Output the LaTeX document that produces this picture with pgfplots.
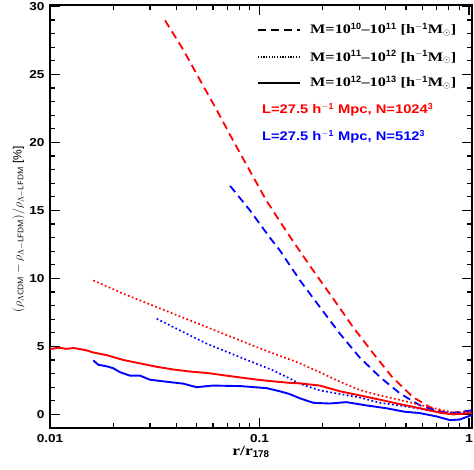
\documentclass[border=0pt]{standalone}
\usepackage{pgfplots}
\pgfplotsset{compat=1.18}
\usepackage{fontspec}
\setmainfont{Liberation Sans}
\newfontfamily\widesans[FakeStretch=1.18]{Liberation Sans Bold}
\newfontfamily\wideserif[FakeStretch=1.25]{Liberation Serif Bold}
\begin{document}
\begin{tikzpicture}[x=1pt,y=1pt]
\begin{axis}[
  at={(0pt,0pt)}, anchor=south west,
  scale only axis, width=422pt, height=423pt,
  xmode=log, xmin=0.01, xmax=1.033,
  ymin=-1, ymax=30.1,
  xtick={0.01,0.1,1}, xticklabels={0.01,0.1,1},
  minor xtick={0.02,0.03,0.04,0.05,0.06,0.07,0.08,0.09,0.2,0.3,0.4,0.5,0.6,0.7,0.8,0.9},
  ytick={0,5,10,15,20,25,30},
  minor y tick num=4,
  tick align=inside, xtick pos=both, ytick pos=both,
  major tick length=10pt, minor tick length=5pt,
  every tick/.style={black, line width=1.1pt},
  axis line style={line width=1.3pt},
  ticklabel style={font=\widesans\fontsize{11.5}{14}\selectfont},
  xticklabel style={yshift=-3pt},
  yticklabel style={xshift=-2pt},
  /pgf/number format/assume math mode=true,
  xlabel={\wideserif\fontsize{14}{16}\selectfont r/r$_{\mathbf{178}}$},
  ylabel={\fontsize{12}{14}\selectfont $(\rho_{\Lambda\mathsf{CDM}}-\rho_{\Lambda\mathsf{-LFDM}})/\rho_{\Lambda\mathsf{-LFDM}}$ [\%]},
  xlabel style={yshift=3pt, xshift=-10pt},
  ylabel style={at={(ticklabel cs:0.47)}, yshift=-2pt},
  clip=true,
]
% red dashed
\addplot[red, line width=1.8pt, dash pattern=on 8pt off 5pt] coordinates {
(0.0354,28.97)(0.0433,26.8)(0.0519,24.6)(0.0624,22.4)(0.0750,20.1)(0.090,17.9)(0.108,15.7)(0.130,13.8)(0.145,12.7)(0.18,10.6)(0.225,8.5)(0.28,6.4)(0.35,4.46)(0.43,2.74)(0.54,1.27)(0.67,0.42)(0.78,0.1)(0.90,0.17)(1.03,0.29)};
% blue dashed
\addplot[blue, line width=1.8pt, dash pattern=on 8pt off 5pt] coordinates {
(0.0724,16.8)(0.090,15.0)(0.112,13.0)(0.125,12.06)(0.156,9.85)(0.194,7.9)(0.242,5.93)(0.30,4.2)(0.376,2.74)(0.47,1.52)(0.584,0.66)(0.73,0.17)(0.84,0.1)(1.03,0.29)};
% red dotted
\addplot[red, line width=1.7pt, dash pattern=on 1.7pt off 2.5pt] coordinates {
(0.0161,9.85)(0.0224,8.87)(0.0323,7.89)(0.0466,6.91)(0.0672,5.93)(0.0968,4.95)(0.125,4.3)(0.139,4.05)(0.156,3.75)(0.194,3.1)(0.242,2.4)(0.30,1.8)(0.376,1.4)(0.47,1.05)(0.584,0.7)(0.73,0.35)(0.84,0.12)(0.97,0.17)(1.03,0.25)};
% blue dotted
\addplot[blue, line width=1.7pt, dash pattern=on 1.7pt off 2.5pt] coordinates {
(0.0323,7.03)(0.0388,6.42)(0.0466,5.81)(0.056,5.2)(0.0672,4.7)(0.0806,4.21)(0.0968,3.72)(0.116,3.24)(0.139,2.65)(0.156,2.25)(0.194,1.76)(0.242,1.5)(0.30,1.25)(0.376,0.85)(0.47,0.65)(0.584,0.4)(0.73,0.17)(0.87,0.1)(1.03,0.2)};
% red solid
\addplot[red, line width=1.9pt] coordinates {
(0.0100,4.8)(0.0110,4.9)(0.0120,4.82)(0.0130,4.88)(0.0139,4.8)(0.0150,4.7)(0.0161,4.55)(0.0187,4.35)(0.0224,4.0)(0.0269,3.75)(0.0323,3.5)(0.0388,3.3)(0.0466,3.15)(0.0560,3.05)(0.0672,2.88)(0.0806,2.72)(0.0968,2.56)(0.116,2.43)(0.139,2.32)(0.156,2.28)(0.194,2.12)(0.242,1.7)(0.30,1.4)(0.376,1.08)(0.469,0.75)(0.584,0.45)(0.73,0.12)(0.84,0.0)(0.94,0.05)(1.03,0.1)};
% blue solid
\addplot[blue, line width=1.9pt] coordinates {
(0.0161,3.97)(0.0170,3.65)(0.0187,3.53)(0.0200,3.4)(0.0216,3.1)(0.0241,2.85)(0.0269,2.85)(0.030,2.55)(0.036,2.4)(0.0433,2.26)(0.050,2.0)(0.060,2.12)(0.081,2.08)(0.108,1.93)(0.125,1.7)(0.139,1.5)(0.156,1.18)(0.181,0.85)(0.216,0.8)(0.26,0.9)(0.324,0.66)(0.404,0.45)(0.49,0.2)(0.58,0.1)(0.70,-0.15)(0.81,-0.42)(0.90,-0.38)(0.97,-0.2)(1.03,-0.05)};
% legend
\draw[black, line width=1.6pt, dash pattern=on 8pt off 5pt] (rel axis cs:0.493,0.941) -- (rel axis cs:0.592,0.941);
\draw[black, line width=1.4pt, dash pattern=on 1.2pt off 1.5pt] (rel axis cs:0.493,0.877) -- (rel axis cs:0.592,0.877);
\draw[black, line width=1.6pt] (rel axis cs:0.493,0.816) -- (rel axis cs:0.592,0.816);
\node[anchor=west, inner sep=0pt, font=\wideserif\fontsize{13}{15}\selectfont] at (rel axis cs:0.616,0.941) {M=10$^{\mathbf{10}}$–10$^{\mathbf{11}}$ [h$^{\mathbf{-1}}$M$_{\odot}$]};
\node[anchor=west, inner sep=0pt, font=\wideserif\fontsize{13}{15}\selectfont] at (rel axis cs:0.616,0.877) {M=10$^{\mathbf{11}}$–10$^{\mathbf{12}}$ [h$^{\mathbf{-1}}$M$_{\odot}$]};
\node[anchor=west, inner sep=0pt, font=\wideserif\fontsize{13}{15}\selectfont] at (rel axis cs:0.616,0.816) {M=10$^{\mathbf{12}}$–10$^{\mathbf{13}}$ [h$^{\mathbf{-1}}$M$_{\odot}$]};
\node[anchor=west, inner sep=0pt, text=red, font=\widesans\fontsize{12.5}{15}\selectfont] at (rel axis cs:0.502,0.752) {L=27.5 h$^{\mathbf{-1}}$ Mpc, N=1024$^{\mathbf{3}}$};
\node[anchor=west, inner sep=0pt, text=blue, font=\widesans\fontsize{12.5}{15}\selectfont] at (rel axis cs:0.502,0.688) {L=27.5 h$^{\mathbf{-1}}$ Mpc, N=512$^{\mathbf{3}}$};
\end{axis}
\pgfresetboundingbox
\path (-50pt,-42pt) rectangle (424pt,428pt);
\end{tikzpicture}
\end{document}
